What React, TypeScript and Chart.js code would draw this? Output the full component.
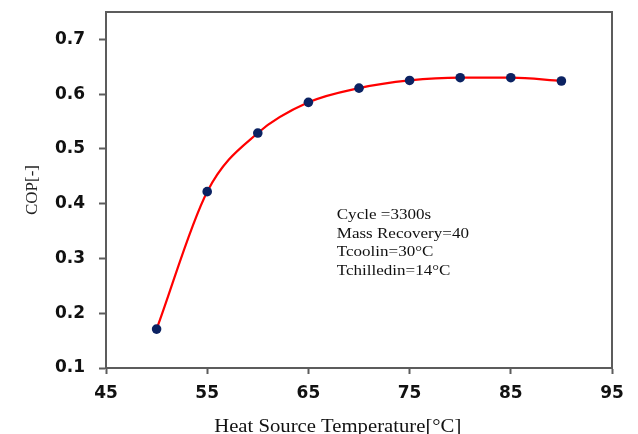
import React, { useEffect, useRef } from "react";
import { Chart, registerables } from "chart.js";

Chart.register(...registerables);

const temperatures = [50, 55, 60, 65, 70, 75, 80, 85, 90];
const copValues = [0.171, 0.422, 0.529, 0.585, 0.611, 0.625, 0.63, 0.63, 0.624];
const xTickRange = { min: 45, max: 95, step: 10 };
const yTickRange = { min: 0.1, max: 0.75, step: 0.1, lastLabel: 0.7 };
const annotationLines = [
  "Cycle =3300s",
  "Mass Recovery=40",
  "Tcoolin=30\u00B0C",
  "Tchilledin=14\u00B0C",
];
const annotationAnchor = { x: 67.8, y: 0.372 };
const xTitle = "Heat Source Temperature[\u00B0C]";
const xTitleCenterValue = 67.9;
const yTitle = "COP[-]";

const AXIS_COLOR = "#5c5c5c";
const TEXT_COLOR = "#111111";

const framePlugin = {
  id: "frameAndText",
  afterDraw(chart: any) {
    const { ctx, chartArea, scales } = chart;
    ctx.save();
    ctx.strokeStyle = AXIS_COLOR;
    ctx.lineWidth = 2;
    ctx.strokeRect(
      chartArea.left,
      chartArea.top,
      chartArea.right - chartArea.left,
      chartArea.bottom - chartArea.top
    );
    // annotation text
    const ax = scales.x.getPixelForValue(annotationAnchor.x);
    const ay = scales.y.getPixelForValue(annotationAnchor.y);
    ctx.fillStyle = TEXT_COLOR;
    ctx.font = "15.5px 'Liberation Serif', 'Times New Roman', serif";
    ctx.textBaseline = "alphabetic";
    ctx.textAlign = "left";
    annotationLines.forEach((line, i) => {
      ctx.save();
      ctx.translate(ax, ay + i * 18.5);
      ctx.scale(1.1, 1);
      ctx.fillText(line, 0, 0);
      ctx.restore();
    });
    // x axis title
    const tx = scales.x.getPixelForValue(xTitleCenterValue);
    ctx.save();
    ctx.font = "18px 'Liberation Serif', 'Times New Roman', serif";
    ctx.textAlign = "center";
    ctx.translate(tx, chart.height - 2);
    ctx.scale(1.15, 1);
    ctx.fillText(xTitle, 0, 0);
    ctx.restore();
    ctx.restore();
  },
};

export default function App() {
  const canvasRef = useRef<HTMLCanvasElement | null>(null);

  useEffect(() => {
    if (!canvasRef.current) return;
    const chart = new Chart(canvasRef.current, {
      type: "line",
      data: {
        datasets: [
          {
            data: temperatures.map((t, i) => ({ x: t, y: copValues[i] })),
            borderColor: "#ff0000",
            borderWidth: 2.2,
            cubicInterpolationMode: "monotone",
            pointRadius: 4.8,
            pointHoverRadius: 4.8,
            pointBackgroundColor: "#0b2262",
            pointBorderColor: "#0b2262",
            pointBorderWidth: 0,
            fill: false,
          },
        ],
      },
      options: {
        responsive: false,
        animation: false,
        layout: { padding: { left: 0, top: 12, right: 26, bottom: 0 } },
        plugins: {
          legend: { display: false },
          tooltip: { enabled: false },
        },
        scales: {
          x: {
            type: "linear",
            min: xTickRange.min,
            max: xTickRange.max,
            afterFit: (scale: any) => {
              scale.height = 66;
              scale.paddingLeft = 0;
              scale.paddingRight = 0;
            },
            ticks: {
              stepSize: xTickRange.step,
              color: TEXT_COLOR,
              padding: 9,
              maxRotation: 0,
              font: { family: "'DejaVu Sans', Verdana, sans-serif", size: 17, weight: "bold" },
            },
            grid: {
              drawOnChartArea: false,
              drawTicks: true,
              tickLength: 6,
              tickColor: AXIS_COLOR,
              tickWidth: 2,
            },
            border: { display: true, color: AXIS_COLOR, width: 2 },
          },
          y: {
            type: "linear",
            min: yTickRange.min,
            max: yTickRange.max,
            afterFit: (scale: any) => {
              scale.width = 106;
              scale.paddingTop = 0;
              scale.paddingBottom = 0;
            },
            afterBuildTicks: (scale: any) => {
              scale.ticks = scale.ticks.filter(
                (t: any) => t.value <= yTickRange.lastLabel + 1e-9
              );
            },
            ticks: {
              stepSize: yTickRange.step,
              color: TEXT_COLOR,
              padding: 14,
              callback: (v: any) => Number(v).toFixed(1),
              font: { family: "'DejaVu Sans', Verdana, sans-serif", size: 17, weight: "bold" },
            },
            grid: {
              drawOnChartArea: false,
              drawTicks: true,
              tickLength: 7,
              tickColor: AXIS_COLOR,
              tickWidth: 2,
            },
            border: { display: true, color: AXIS_COLOR, width: 2 },
            title: {
              display: true,
              text: yTitle,
              color: "#222222",
              padding: { top: 22, bottom: 0 },
              font: { family: "'Liberation Serif', 'Times New Roman', serif", size: 17, weight: "normal" },
            },
          },
        },
      },
      plugins: [framePlugin],
    } as any);
    return () => chart.destroy();
  }, []);

  return (
    <div style={{ position: "fixed", left: 0, top: 0, width: 638, height: 434, background: "#fff" }}>
      <canvas ref={canvasRef} width={638} height={434} style={{ display: "block" }} />
    </div>
  );
}
